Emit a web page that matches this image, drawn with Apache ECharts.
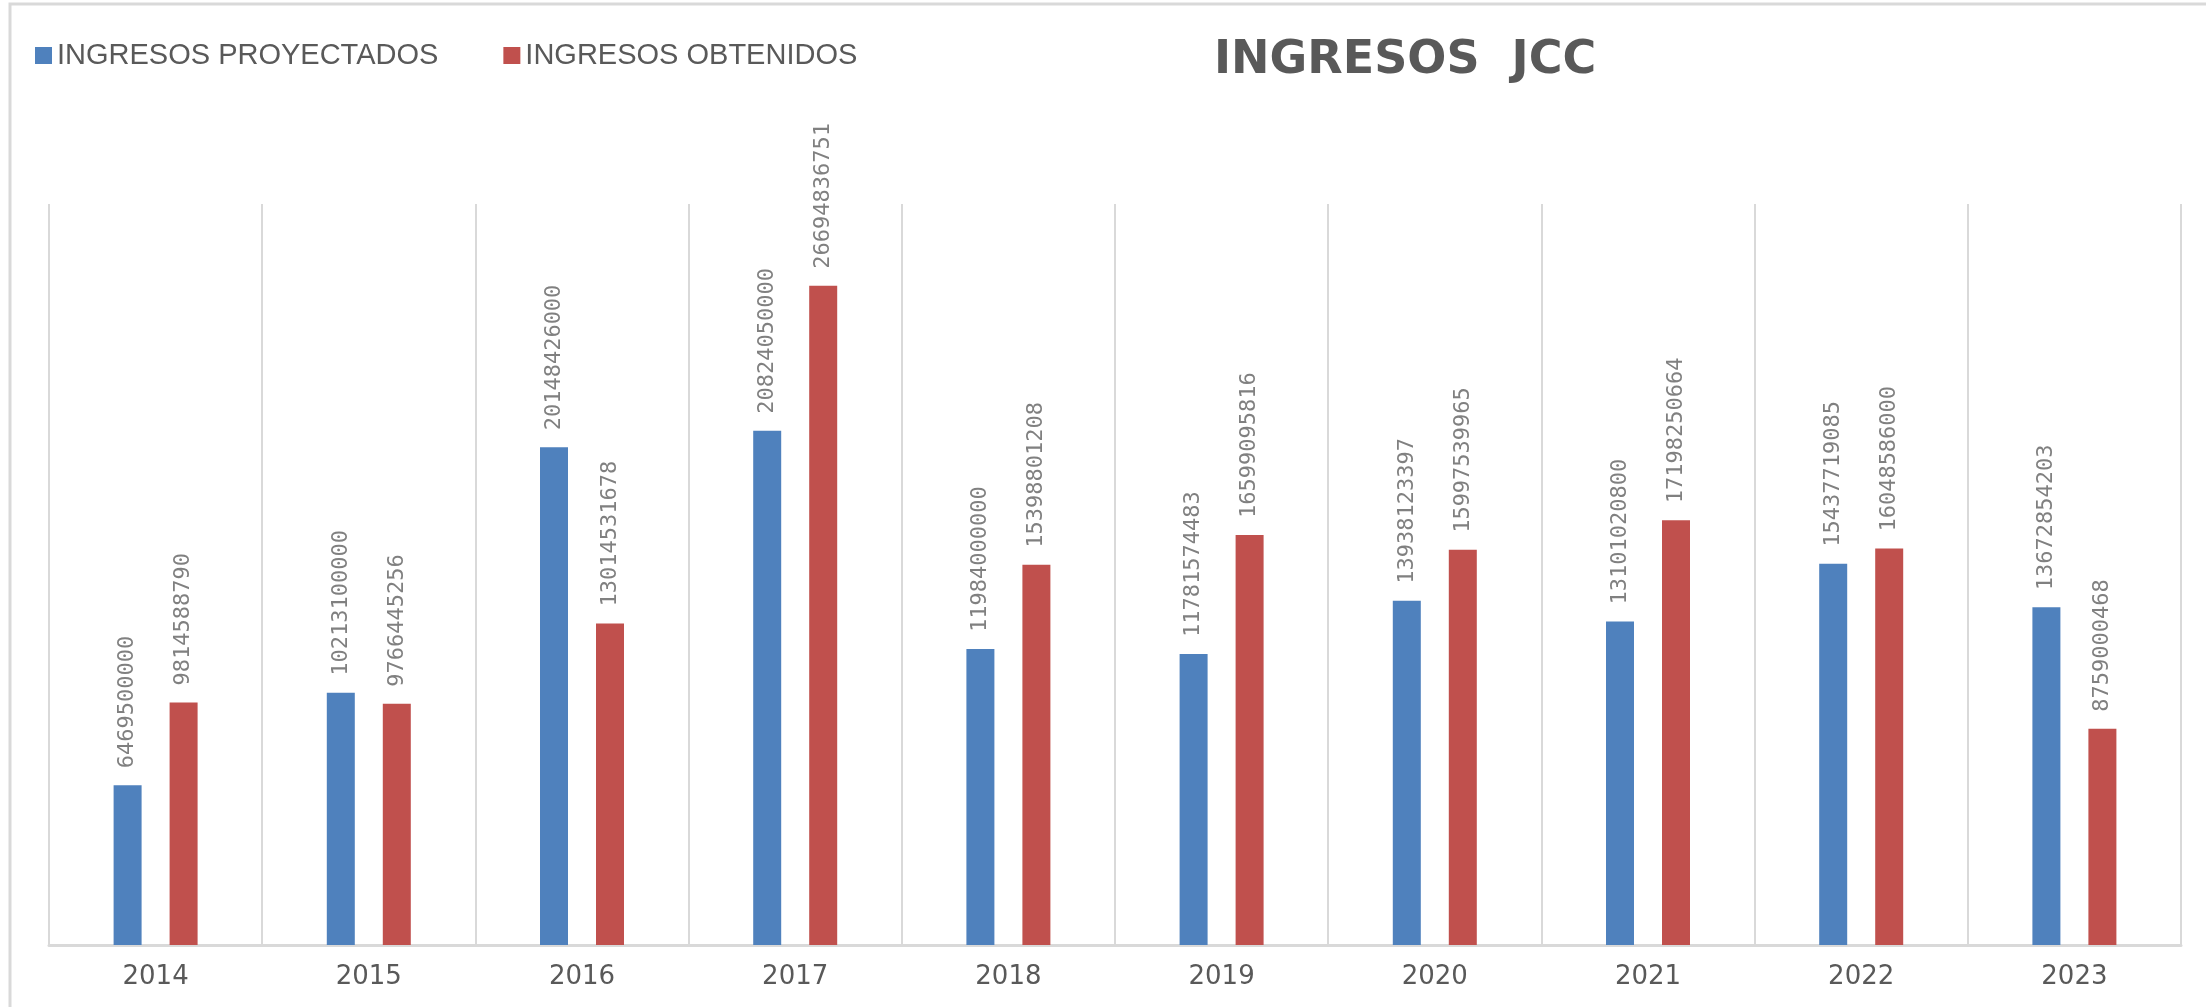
<!DOCTYPE html>
<html>
<head>
<meta charset="utf-8">
<title>INGRESOS JCC</title>
<script src="https://cdn.jsdelivr.net/npm/echarts@6/dist/echarts.min.js"></script>
<style>
  html, body { margin: 0; padding: 0; background: #fff; }
  #chart { width: 2206px; height: 1007px; }
</style>
</head>
<body>
<div id="chart"></div>
<script>
// años
const years = ['2014', '2015', '2016', '2017', '2018', '2019', '2020', '2021', '2022', '2023'];
// ingresos proyectados
const proyectados = [6469500000, 10213100000, 20148426000, 20824050000, 11984000000,
  11781574483, 13938123397, 13101020800, 15437719085, 13672854203];
// ingresos obtenidos
const obtenidos = [9814588790, 9766445256, 13014531678, 26694836751, 15398801208,
  16599095816, 15997539965, 17198250664, 16048586000, 8759000468];

const chart = echarts.init(document.getElementById('chart'));

// etiquetas verticales encima de cada barra
const labelStyle = {
  show: true,
  position: 'top',
  rotate: 90,
  align: 'left',
  verticalAlign: 'middle',
  distance: 17,
  color: '#808080',
  fontFamily: 'DejaVu Sans Mono',
  fontSize: 22
};

chart.setOption({
  backgroundColor: '#fff',
  animation: false,
  title: {
    text: 'INGRESOS  JCC',
    left: 1209,
    top: 33,
    textStyle: {
      color: '#595959',
      fontFamily: 'DejaVu Sans',
      fontWeight: 'bold',
      fontSize: 46
    }
  },
  legend: {
    left: 30,
    top: 36,
    itemWidth: 17,
    itemHeight: 17,
    itemGap: 65,
    icon: 'rect',
    textStyle: {
      color: '#595959',
      fontFamily: 'Liberation Sans',
      fontSize: 29
    }
  },
  graphic: [{
    type: 'rect',
    silent: true,
    shape: { x: 10, y: 4, width: 2400, height: 1200 },
    style: { fill: 'none', stroke: '#d9d9d9', lineWidth: 3 }
  }],
  grid: { left: 49, right: 25, top: 204, bottom: 62 },
  xAxis: {
    type: 'category',
    data: years,
    axisLine: { lineStyle: { color: '#d9d9d9', width: 3 } },
    axisTick: { show: false },
    splitLine: { show: true, lineStyle: { color: '#d9d9d9', width: 2 } },
    axisLabel: {
      color: '#595959',
      fontFamily: 'DejaVu Sans',
      fontSize: 26,
      margin: 19
    }
  },
  yAxis: {
    type: 'value',
    min: 0,
    max: 30000000000,
    show: false,
    splitLine: { show: false }
  },
  series: [
    {
      name: 'INGRESOS PROYECTADOS',
      type: 'bar',
      data: proyectados,
      barWidth: 28,
      barGap: '100%',
      itemStyle: { color: '#4f81bd' },
      label: labelStyle
    },
    {
      name: 'INGRESOS OBTENIDOS',
      type: 'bar',
      data: obtenidos,
      barWidth: 28,
      itemStyle: { color: '#c0504d' },
      label: labelStyle
    }
  ]
});
</script>
</body>
</html>
